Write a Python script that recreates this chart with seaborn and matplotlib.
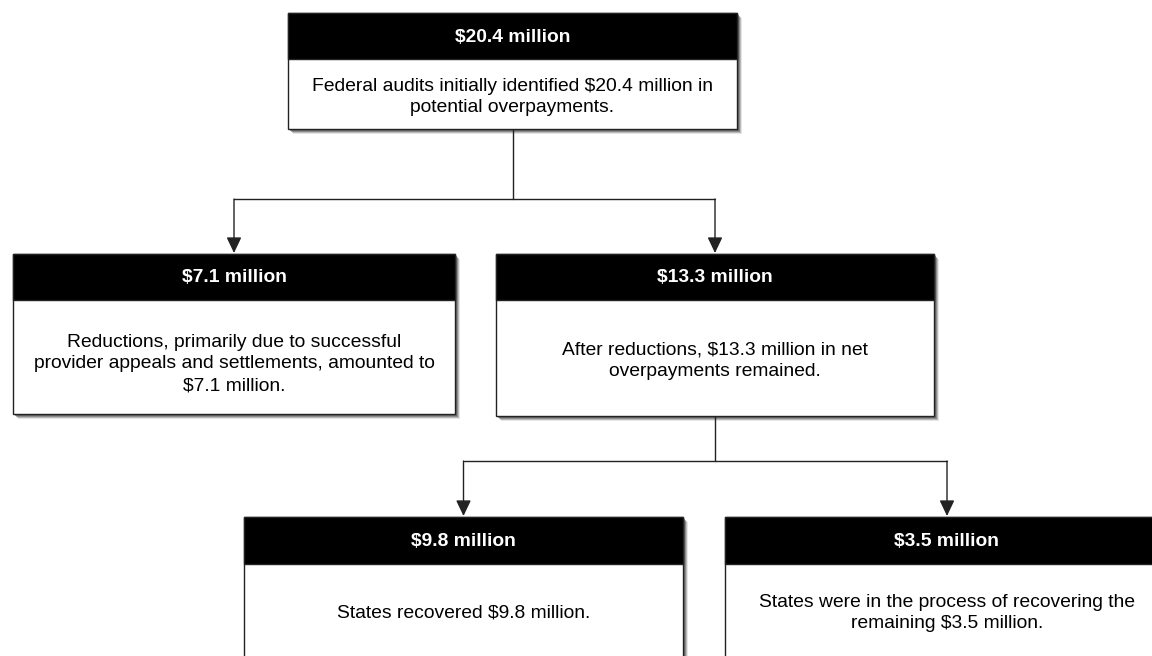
import matplotlib
matplotlib.use("Agg")
import matplotlib.pyplot as plt
import seaborn as sns
from matplotlib.patches import Rectangle

# =====================================================
# DATA
# =====================================================

amounts = [20.4, 7.1, 13.3, 9.8, 3.5]

headers = ["${:.1f} million".format(a) for a in amounts]

descriptions = [
    "Federal audits initially identified $20.4 million in\npotential overpayments.",
    "Reductions, primarily due to successful\nprovider appeals and settlements, amounted to\n$7.1 million.",
    "After reductions, $13.3 million in net\noverpayments remained.",
    "States recovered $9.8 million.",
    "States were in the process of recovering the\nremaining $3.5 million.",
]

# parent -> children
links = [(0, [1, 2]), (2, [3, 4])]

# =====================================================
# LAYOUT (pixel space, y down)
# =====================================================

# left, right, header top, header bottom, body bottom
boxes = [
    (288, 737, 13, 59, 129),
    (13, 455, 254, 300, 414),
    (496, 934, 254, 300, 416),
    (244, 683, 517, 564, 662),
    (725, 1169, 517, 564, 662),
]

branch_y = [199, 461]

sns.set_theme(style="white")
plt.rcParams["font.family"] = ["Liberation Sans", "DejaVu Sans"]

fig = plt.figure(figsize=(11.52, 6.56), dpi=100)
ax = fig.add_axes([0, 0, 1, 1])
ax.set_xlim(0, 1152)
ax.set_ylim(656, 0)
ax.axis("off")

# =====================================================
# BOXES
# =====================================================

for i, (x0, x1, y0, ym, y1) in enumerate(boxes):
    w = x1 - x0
    h = y1 - y0

    # soft drop shadow
    for off, alpha in [(5, 0.15), (4, 0.3), (3, 0.45), (2, 0.6)]:
        ax.add_patch(Rectangle(
            (x0 + off, y0 + off), w, h,
            facecolor="#555555", edgecolor="none",
            alpha=alpha, zorder=1
        ))

    ax.add_patch(Rectangle(
        (x0, y0), w, h,
        facecolor="white", edgecolor="#222222",
        linewidth=1.0, zorder=2
    ))

    ax.add_patch(Rectangle(
        (x0, y0), w, ym - y0,
        facecolor="black", edgecolor="#222222",
        linewidth=1.0, zorder=3
    ))

    cx = (x0 + x1) / 2

    ax.text(
        cx, (y0 + ym) / 2 + 1, headers[i],
        color="white", fontsize=13.9, fontweight="bold",
        ha="center", va="center", zorder=4
    )

    if i >= 3:
        ty = 613
    else:
        ty = (ym + y1) / 2 + (7 if i == 1 else 3)

    ax.text(
        cx, ty, descriptions[i],
        color="black", fontsize=13.9, linespacing=1.38,
        ha="center", va="center", zorder=4
    )

# =====================================================
# CONNECTORS
# =====================================================

for (parent, kids), by in zip(links, branch_y):
    px0, px1, _, _, pby = boxes[parent]
    pcx = (px0 + px1) / 2
    kid_x = [(boxes[k][0] + boxes[k][1]) / 2 for k in kids]

    ax.plot([pcx, pcx], [pby, by], color="#222222", lw=1.0, zorder=1)
    ax.plot([min(kid_x), max(kid_x)], [by, by], color="#222222", lw=1.0, zorder=1)

    for k, kx in zip(kids, kid_x):
        top = boxes[k][2]
        ax.annotate(
            "", xy=(kx, top - 1), xytext=(kx, by),
            arrowprops=dict(
                arrowstyle="-|>,head_length=0.8,head_width=0.38",
                color="#222222", lw=1.0,
                shrinkA=0, shrinkB=0
            ),
            zorder=1
        )

fig.savefig("out.png", dpi=100)
